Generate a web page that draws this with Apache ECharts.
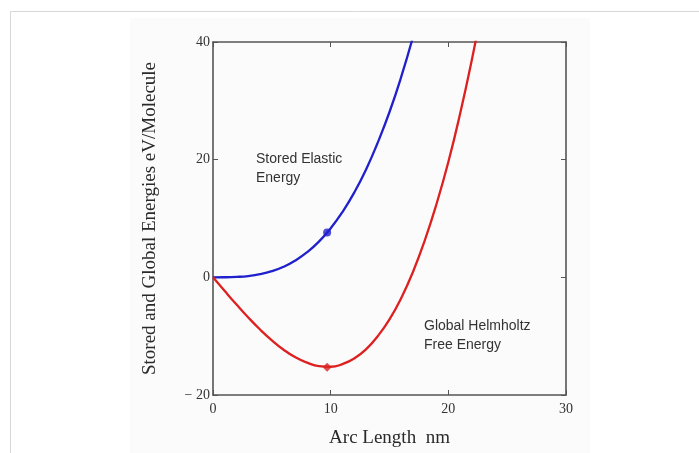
<!DOCTYPE html>
<html>
<head>
<meta charset="utf-8">
<script src="https://cdn.jsdelivr.net/npm/echarts@6/dist/echarts.min.js"></script>
<style>
  html, body { margin: 0; padding: 0; background: #fff; }
  #chart { width: 699px; height: 453px; }
</style>
</head>
<body>
<div id="chart"></div>
<script>
// arc length (nm)
const arcLength = [0, 1, 2, 3, 4, 5, 6, 7, 8, 9, 10, 11, 12, 13, 14, 15, 16, 17, 18, 19, 20, 21, 22, 23];
// stored elastic energy (eV/molecule)
const storedElastic = [0, 0.01, 0.07, 0.22, 0.53, 1.04, 1.8, 2.86, 4.27, 6.07, 8.33, 11.1, 14.4, 18.3, 22.9, 28.1, 34.1, 40.9];
// global helmholtz free energy (eV/molecule)
const globalHelmholtz = [0, -2.34, -4.63, -6.83, -8.87, -10.7, -12.3, -13.6, -14.5, -15.1, -15.2, -14.75, -13.8, -12.25, -10.0, -7.15, -3.5, 0.95, 6.3, 12.5, 19.6, 27.8, 37.0, 47.2];
// marked points
const elasticMark = [9.7, 7.6];
const helmholtzMark = [9.7, -15.3];
const yTicks = [-20, 0, 20, 40];

const chart = echarts.init(document.getElementById('chart'));

const serif = '"Liberation Serif", "DejaVu Serif", serif';
const sans = '"Liberation Sans", Arial, sans-serif';
const axisColor = '#555';

const option = {
  animation: false,
  backgroundColor: '#fff',
  grid: { left: 213, top: 42, right: 133, bottom: 57 },
  xAxis: [
    {
      type: 'value', min: 0, max: 30, interval: 10,
      name: 'Arc Length  nm', nameLocation: 'middle', nameGap: 34,
      nameTextStyle: { fontFamily: serif, fontSize: 19, color: '#2a2a2a' },
      axisLine: { show: true, onZero: false, lineStyle: { color: axisColor, width: 1.6 } },
      axisTick: { show: true, inside: true, length: 5, lineStyle: { color: axisColor } },
      axisLabel: { fontFamily: serif, fontSize: 14, color: '#333', margin: 7 },
      splitLine: { show: false }
    },
    {
      type: 'value', min: 0, max: 30, interval: 10, position: 'top',
      axisLine: { show: true, onZero: false, lineStyle: { color: axisColor, width: 1.6 } },
      axisTick: { show: true, inside: true, length: 5, lineStyle: { color: axisColor } },
      axisLabel: { show: false },
      splitLine: { show: false }
    }
  ],
  yAxis: [
    {
      type: 'value', min: -20, max: 40, interval: 20,
      name: 'Stored and Global Energies eV/Molecule', nameLocation: 'middle', nameGap: 53,
      nameTextStyle: { fontFamily: serif, fontSize: 19, color: '#2a2a2a' },
      axisLine: { show: true, onZero: false, lineStyle: { color: axisColor, width: 1.6 } },
      axisTick: { show: true, inside: true, length: 5, lineStyle: { color: axisColor } },
      axisLabel: {
        fontFamily: serif, fontSize: 14, color: '#333', margin: 3,
        formatter: v => (yTicks.includes(v) ? (v < 0 ? '\u2212 ' + Math.abs(v) : String(v)) : '')
      },
      splitLine: { show: false }
    },
    {
      type: 'value', min: -20, max: 40, interval: 20, position: 'right',
      axisLine: { show: true, onZero: false, lineStyle: { color: axisColor, width: 1.6 } },
      axisTick: { show: true, inside: true, length: 5, lineStyle: { color: axisColor } },
      axisLabel: { show: false },
      splitLine: { show: false }
    }
  ],
  series: [
    {
      name: 'Stored Elastic Energy', type: 'line', smooth: true, symbol: 'none',
      lineStyle: { color: '#2020cc', width: 2.3 },
      data: storedElastic.map((v, i) => [arcLength[i], v])
    },
    {
      name: 'Global Helmholtz Free Energy', type: 'line', smooth: true, symbol: 'none',
      lineStyle: { color: '#dd2020', width: 2.3 },
      data: globalHelmholtz.map((v, i) => [arcLength[i], v])
    },
    {
      type: 'scatter', symbol: 'circle', symbolSize: 8,
      itemStyle: { color: '#2020cc' },
      data: [elasticMark]
    },
    {
      type: 'scatter', symbol: 'diamond', symbolSize: 9,
      itemStyle: { color: '#dd2020' },
      data: [helmholtzMark]
    }
  ],
  graphic: [
    { type: 'rect', z: -10, silent: true, shape: { x: 130, y: 18, width: 460, height: 440 }, style: { fill: '#fbfbfb' } },
    { type: 'line', z: -5, silent: true, shape: { x1: 10.5, y1: 11.5, x2: 699, y2: 11.5 }, style: { stroke: '#d8d8d8', lineWidth: 1 } },
    { type: 'line', z: -5, silent: true, shape: { x1: 10.5, y1: 11.5, x2: 10.5, y2: 453 }, style: { stroke: '#d8d8d8', lineWidth: 1 } },
    { type: 'text', left: 256, top: 150, style: { text: 'Stored Elastic\nEnergy', font: '14px ' + sans, fill: '#333', lineHeight: 19 } },
    { type: 'text', left: 424, top: 317, style: { text: 'Global Helmholtz\nFree Energy', font: '14px ' + sans, fill: '#333', lineHeight: 19 } }
  ]
};

chart.setOption(option);
</script>
</body>
</html>
